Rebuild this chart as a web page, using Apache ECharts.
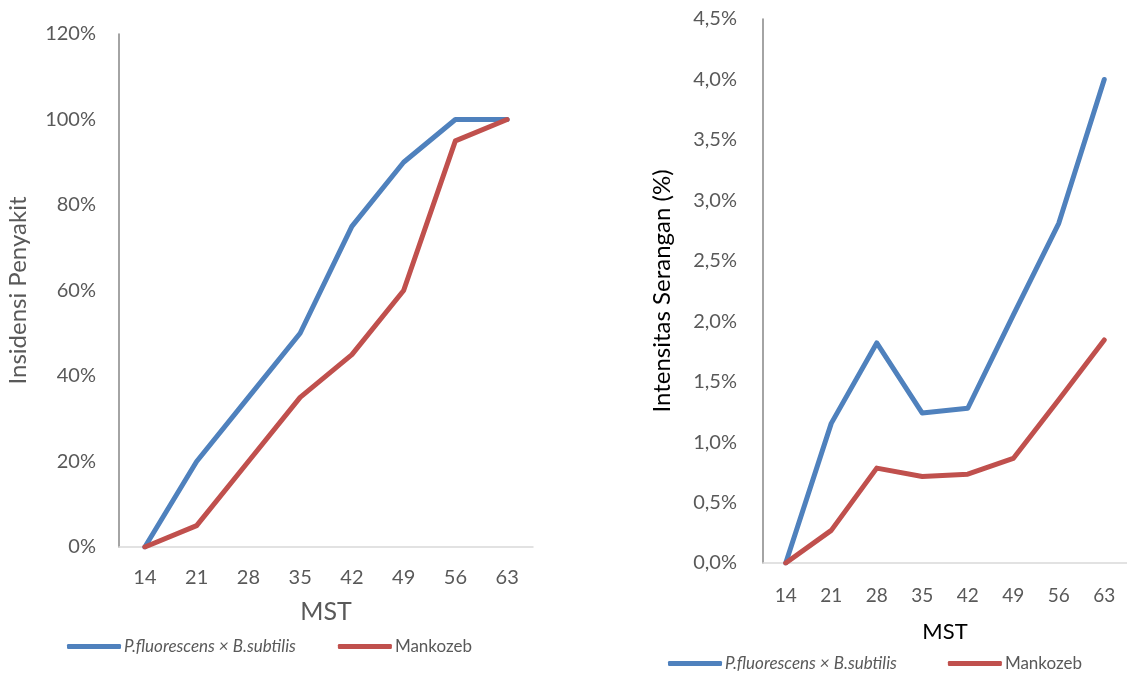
<!DOCTYPE html>
<html>
<head>
<meta charset="utf-8">
<script src="https://cdn.jsdelivr.net/npm/echarts@6/dist/echarts.min.js"></script>
<style>
  html, body { margin: 0; padding: 0; background: #fff; }
  #chart { width: 1127px; height: 675px; }
</style>
</head>
<body>
<div id="chart"></div>
<script>
// Weeks after planting (MST)
const weeks = ['14', '21', '28', '35', '42', '49', '56', '63'];

const seriesNames = ['P.fluorescens × B.subtilis', 'Mankozeb'];

// Disease incidence (%)
const incidenceBio = [0, 20, 35, 50, 75, 90, 100, 100];
const incidenceMankozeb = [0, 5, 20, 35, 45, 60, 95, 100];

// Attack intensity (%)
const intensityBio = [0, 1.155, 1.82, 1.24, 1.28, 2.05, 2.81, 4.0];
const intensityMankozeb = [0, 0.27, 0.785, 0.715, 0.735, 0.865, 1.35, 1.845];

const colors = ['#4F81BD', '#C0504D'];
const font = 'Lato, "Open Sans", sans-serif';
const grey = '#595959';

const chart = echarts.init(document.getElementById('chart'));

function lineSeries(name, data, idx, axisIdx) {
  return {
    name: name,
    type: 'line',
    xAxisIndex: axisIdx,
    yAxisIndex: axisIdx,
    data: data,
    symbol: 'none',
    smooth: false,
    lineStyle: { width: 5, color: colors[idx], cap: 'round', join: 'round' },
    itemStyle: { color: colors[idx] },
    emphasis: { disabled: true },
    animation: false
  };
}

function legendAt(left, top, gap) {
  return {
    left: left,
    top: top,
    orient: 'horizontal',
    icon: 'roundRect',
    itemWidth: 54,
    itemHeight: 5,
    itemGap: gap,
    selectedMode: false,
    textStyle: { fontFamily: font, fontSize: 17, color: grey, padding: [0, 0, 0, -2] },
    data: [
      { name: seriesNames[0], textStyle: { fontStyle: 'italic' } },
      { name: seriesNames[1] }
    ]
  };
}

const option = {
  backgroundColor: '#fff',
  animation: false,
  grid: [
    { left: 119, top: 34, width: 414, height: 513 },
    { left: 763, top: 19, width: 368, height: 544 }
  ],
  legend: [legendAt(62, 633, 42), legendAt(663, 650, 51)],
  xAxis: [
    {
      type: 'category', gridIndex: 0, data: weeks, boundaryGap: true,
      name: 'MST', nameLocation: 'middle', nameGap: 52,
      nameTextStyle: { fontFamily: font, fontSize: 25, color: grey },
      axisLine: { lineStyle: { color: '#D9D9D9', width: 1.5 } },
      axisTick: { show: false },
      axisLabel: { fontFamily: font, fontSize: 20, color: grey, margin: 21 }
    },
    {
      type: 'category', gridIndex: 1, data: weeks, boundaryGap: true,
      name: 'MST', nameLocation: 'middle', nameGap: 58,
      nameTextStyle: { fontFamily: font, fontSize: 22, color: '#000' },
      axisLine: { lineStyle: { color: '#D9D9D9', width: 1.5 } },
      axisTick: { show: false },
      axisLabel: { fontFamily: font, fontSize: 19, color: grey, margin: 23 }
    }
  ],
  yAxis: [
    {
      type: 'value', gridIndex: 0, min: 0, max: 120, interval: 20,
      name: 'Insidensi Penyakit', nameLocation: 'middle', nameGap: 89,
      nameTextStyle: { fontFamily: font, fontSize: 24, color: grey },
      axisLine: { show: true, lineStyle: { color: '#868686', width: 1.5 } },
      axisTick: { show: false },
      splitLine: { show: false },
      axisLabel: {
        fontFamily: font, fontSize: 20, color: grey, margin: 23,
        formatter: v => v + '%'
      }
    },
    {
      type: 'value', gridIndex: 1, min: 0, max: 4.5, interval: 0.5,
      name: 'Intensitas Serangan (%)', nameLocation: 'middle', nameGap: 89,
      nameTextStyle: { fontFamily: font, fontSize: 24, color: '#000' },
      axisLine: { show: true, lineStyle: { color: '#868686', width: 1.5 } },
      axisTick: { show: false },
      splitLine: { show: false },
      axisLabel: {
        fontFamily: font, fontSize: 20, color: grey, margin: 26,
        formatter: v => v.toFixed(1).replace('.', ',') + '%'
      }
    }
  ],
  series: [
    lineSeries(seriesNames[0], incidenceBio, 0, 0),
    lineSeries(seriesNames[1], incidenceMankozeb, 1, 0),
    lineSeries(seriesNames[0], intensityBio, 0, 1),
    lineSeries(seriesNames[1], intensityMankozeb, 1, 1)
  ]
};

chart.setOption(option);
</script>
</body>
</html>
